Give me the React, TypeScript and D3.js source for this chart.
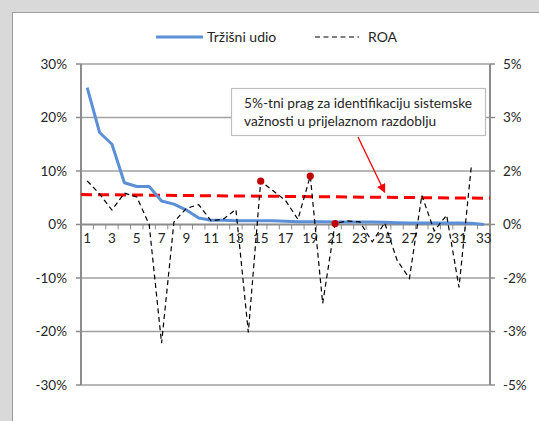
import React from "react";
import * as d3 from "d3";

const categories: string[] = Array.from({ length: 33 }, (_, i) => String(i + 1));

const marketShare: number[] = [
  25.6, 17.2, 15.0, 7.8, 7.1, 7.1, 4.4, 3.8, 2.7, 1.2, 0.8, 0.8, 0.7, 0.7, 0.7,
  0.7, 0.6, 0.5, 0.5, 0.5, 0.45, 0.45, 0.45, 0.45, 0.4, 0.35, 0.3, 0.3, 0.3,
  0.3, 0.3, 0.25, 0.0,
];

const roa: number[] = [
  1.36, 0.95, 0.45, 0.98, 0.86, 0.0, -3.7, 0.08, 0.5, 0.62, 0.11, 0.17, 0.47,
  -3.36, 1.35, 1.05, 0.75, 0.16, 1.51, -2.46, 0.03, 0.11, 0.08, -0.54, 0.05,
  -1.11, -1.68, 0.91, -0.2, 0.29, -1.96, 1.84,
];

const highlighted: number[] = [15, 19, 21];

const threshold: number[] = [5.6, 4.9];

const leftTicks: number[] = [-30, -20, -10, 0, 10, 20, 30];
const xLabels: string[] = categories.filter((_, i) => i % 2 === 0);

const seriesNames: string[] = ["Tržišni udio", "ROA"];
const annotation: string[] = [
  "5%-tni prag za identifikaciju sistemske",
  "važnosti u prijelaznom razdoblju",
];

const W = 539;
const H = 421;
const FONT = "Lato, 'Open Sans', sans-serif";

export default function App() {
  const left = 81;
  const right = 490;
  const top = 64;
  const bottom = 385;

  const x = d3.scaleBand<string>().domain(categories).range([left, right]);
  const cx = (c: string) => (x(c) as number) + x.bandwidth() / 2;
  const yL = d3.scaleLinear().domain([-30, 30]).range([bottom, top]);
  const yR = d3.scaleLinear().domain([-5, 5]).range([bottom, top]);

  const blueLine = d3
    .line<number>()
    .x((_, i) => cx(categories[i]))
    .y((d) => yL(d))(marketShare) as string;

  const roaLine = d3
    .line<number>()
    .x((_, i) => cx(categories[i]))
    .y((d) => yR(d))(roa) as string;

  const thrX = d3.scaleLinear().domain([0, threshold.length - 1]).range([left, right]);
  const thrLine = d3
    .line<number>()
    .x((_, i) => thrX(i))
    .y((d) => yL(d))(threshold) as string;

  const y0 = yL(0);
  const boundaries = categories.map((c) => x(c) as number).concat([right]);

  const arrowTipX = cx("25");
  const arrowTipY = yL(threshold[0] + (threshold[1] - threshold[0]) * 0.74) - 5;
  const arrowStartX = 358;
  const arrowStartY = 137;

  const gridColor = "#a0a0a0";
  const axisColor = "#8c8c8c";
  const textColor = "#262626";
  const fs = 13.5;

  return (
    <svg
      width={W}
      height={H}
      style={{ position: "absolute", left: 0, top: 0 }}
      fontFamily={FONT}
    >
      <defs>
        <marker
          id="arrowHead"
          viewBox="0 0 10 10"
          refX="9"
          refY="5"
          markerWidth="9"
          markerHeight="9"
          markerUnits="userSpaceOnUse"
          orient="auto"
        >
          <path d="M0,0 L10,5 L0,10 z" fill="#ff0000" />
        </marker>
      </defs>
      <rect x={0} y={0} width={W} height={H} fill="#d9d9d9" />
      <rect x={12.5} y={12.5} width={W} height={H} fill="#ffffff" stroke="#9a9a9a" strokeWidth={1} />

      {/* gridlines */}
      {leftTicks
        .filter((t) => t !== 0)
        .map((t) => (
          <line key={t} x1={left} x2={right} y1={yL(t)} y2={yL(t)} stroke={gridColor} strokeWidth={1.5} />
        ))}

      {/* left axis */}
      <line x1={left} x2={left} y1={top} y2={bottom} stroke={axisColor} strokeWidth={2} />
      {leftTicks.map((t) => (
        <g key={"l" + t}>
          <line x1={left - 5} x2={left} y1={yL(t)} y2={yL(t)} stroke={axisColor} strokeWidth={1.5} />
          <text x={left - 14} y={yL(t)} dy="0.35em" textAnchor="end" fontSize={fs} fill={textColor}>
            {t}%
          </text>
        </g>
      ))}

      {/* right axis */}
      <line x1={right} x2={right} y1={top} y2={bottom} stroke={axisColor} strokeWidth={2} />
      {leftTicks.map((t) => (
        <g key={"r" + t}>
          <line x1={right} x2={right + 5} y1={yL(t)} y2={yL(t)} stroke={axisColor} strokeWidth={1.5} />
          <text x={right + 13} y={yR(t / 6)} dy="0.35em" textAnchor="start" fontSize={fs} fill={textColor}>
            {Math.round(t / 6)}%
          </text>
        </g>
      ))}

      {/* x axis at zero */}
      <line x1={left} x2={right} y1={y0} y2={y0} stroke={axisColor} strokeWidth={2} />
      {boundaries.map((b, i) => (
        <line key={"xt" + i} x1={b} x2={b} y1={y0} y2={y0 + 5} stroke={axisColor} strokeWidth={1} />
      ))}
      {xLabels.map((c) => (
        <text key={"xl" + c} x={cx(c)} y={y0 + 14} dy="0.35em" textAnchor="middle" fontSize={fs} fill={textColor}>
          {c}
        </text>
      ))}

      {/* threshold */}
      <path d={thrLine} fill="none" stroke="#ff0000" strokeWidth={3} strokeDasharray="11,6" />

      {/* market share */}
      <path d={blueLine} fill="none" stroke="#5b8fd6" strokeWidth={3} strokeLinejoin="round" />

      {/* ROA */}
      <path d={roaLine} fill="none" stroke="#000000" strokeWidth={1.2} strokeDasharray="5,3.5" />
      {highlighted.map((c) => (
        <circle key={"h" + c} cx={cx(String(c))} cy={yR(roa[c - 1])} r={3.6} fill="#c00000" />
      ))}

      {/* annotation */}
      <rect x={231.5} y={88.5} width={254} height={47} fill="#ffffff" stroke="#bfbfbf" strokeWidth={1.2} />
      {annotation.map((line, i) => (
        <text key={"a" + i} x={244} y={103 + i * 18.5} dy="0.35em" fontSize={fs + 0.2} fill={textColor}>
          {line}
        </text>
      ))}
      <line
        x1={arrowStartX}
        y1={arrowStartY}
        x2={arrowTipX}
        y2={arrowTipY}
        stroke="#ff0000"
        strokeWidth={1.3}
        markerEnd="url(#arrowHead)"
      />

      {/* legend */}
      <line x1={156} x2={203} y1={37} y2={37} stroke="#5b8fd6" strokeWidth={3} />
      <text x={207} y={37} dy="0.35em" fontSize={14} fill={textColor}>
        {seriesNames[0]}
      </text>
      <line x1={315} x2={359} y1={37} y2={37} stroke="#000000" strokeWidth={1.2} strokeDasharray="5,3.5" />
      <text x={368} y={37} dy="0.35em" fontSize={14} fill={textColor}>
        {seriesNames[1]}
      </text>
    </svg>
  );
}
